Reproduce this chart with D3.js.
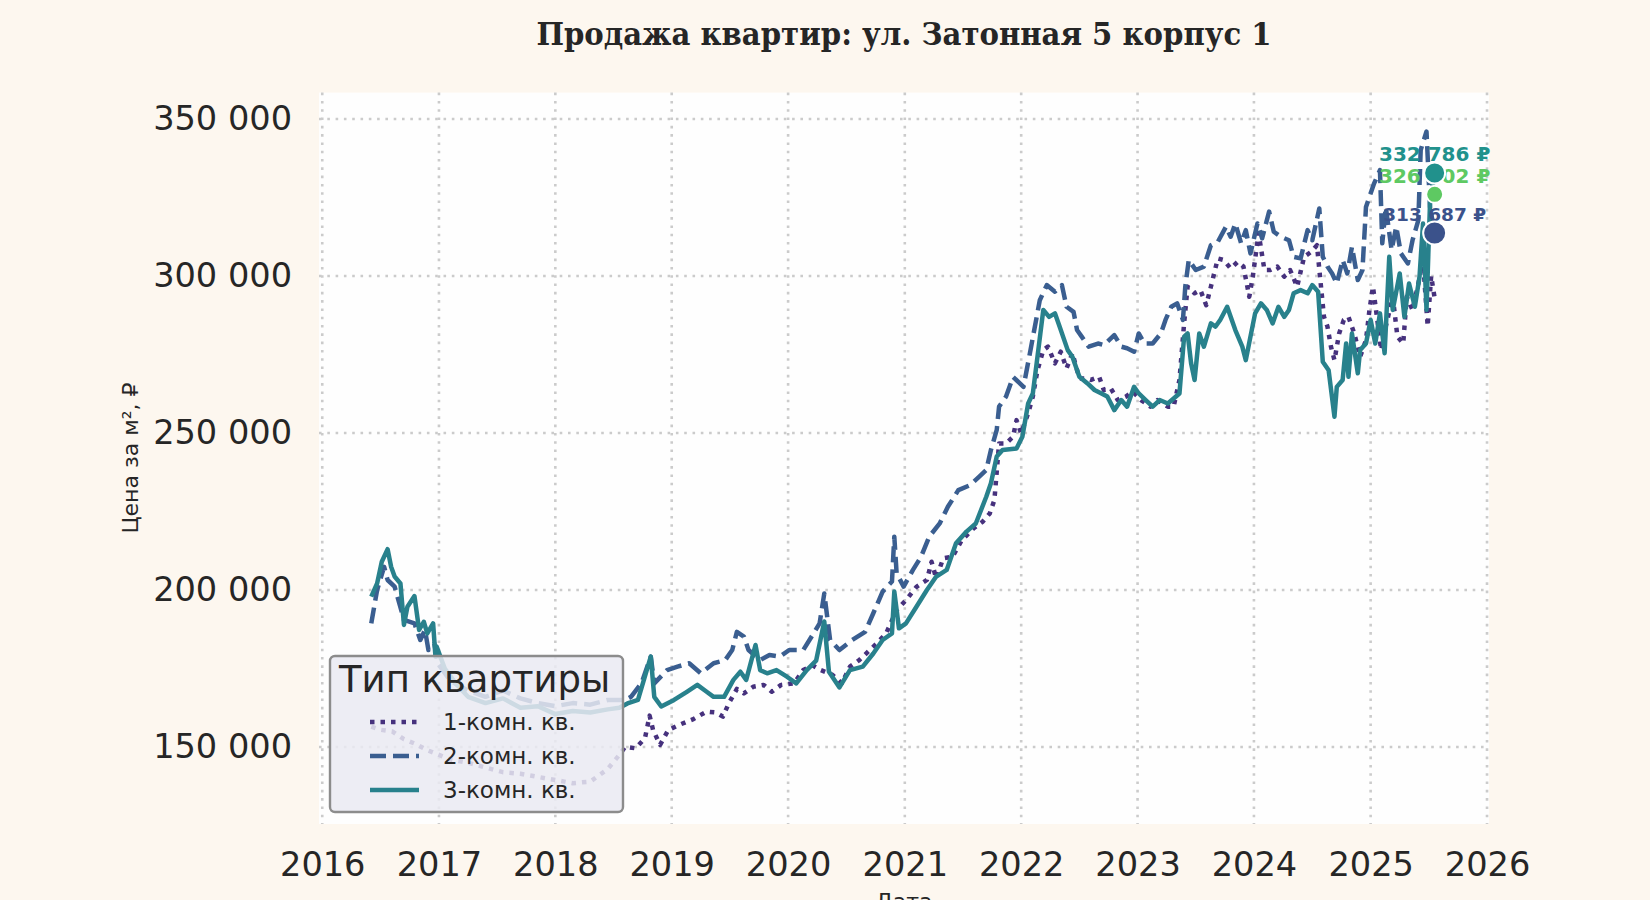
<!DOCTYPE html>
<html>
<head>
<meta charset="utf-8">
<script src="https://cdn.jsdelivr.net/npm/d3@7"></script>
<style>
  body { margin: 0; background: #fdf7ef; }
  svg { display: block; }
</style>
</head>
<body>
<div id="chart"></div>
<script>
// Data (decimal year, price per m²)

const room1 = [
  [2016.42,156500],[2016.50,155500],[2016.60,155000],[2016.70,152500],[2016.80,151000],[2016.90,149000],
  [2017.00,147500],[2017.10,146000],[2017.25,145000],[2017.40,143500],[2017.55,142000],[2017.70,141500],
  [2017.85,140500],[2018.00,139500],[2018.15,138500],[2018.30,139000],[2018.45,143000],[2018.55,147500],
  [2018.60,150100],[2018.69,149600],[2018.77,152800],[2018.81,160000],[2018.84,155400],[2018.90,150700],
  [2018.97,155400],[2019.06,157000],[2019.18,158800],[2019.30,161300],[2019.38,161000],[2019.44,159700],
  [2019.49,163900],[2019.56,168500],[2019.62,167100],[2019.70,169200],[2019.79,169800],[2019.86,167600],
  [2019.94,169800],[2020.05,170300],[2020.13,174500],[2020.21,176000],[2020.28,174500],[2020.38,173000],
  [2020.46,170300],[2020.53,175600],[2020.61,177700],[2020.70,180900],[2020.76,183000],[2020.84,186200],
  [2020.93,193600],[2021.01,196800],[2021.10,201000],[2021.19,203200],[2021.23,209000],[2021.27,203700],
  [2021.33,210100],[2021.41,210600],[2021.49,215900],[2021.59,219600],[2021.67,221800],[2021.73,224400],
  [2021.77,228700],[2021.81,246700],[2021.87,246700],[2021.93,248800],[2021.96,254100],[2022.00,249900],
  [2022.06,256300],[2022.10,261600],[2022.14,270000],[2022.19,276400],[2022.23,277500],[2022.29,272200],
  [2022.34,275900],[2022.39,270600],[2022.44,275400],[2022.50,267400],[2022.56,267400],[2022.60,266900],
  [2022.67,267900],[2022.71,263700],[2022.77,264200],[2022.83,260500],[2022.90,261600],[2022.96,263200],
  [2023.03,260500],[2023.11,258400],[2023.17,260500],[2023.26,258400],[2023.31,258400],[2023.36,266900],
  [2023.40,284900],[2023.43,296600],[2023.49,294500],[2023.54,295500],[2023.59,290700],[2023.63,296600],
  [2023.69,305600],[2023.74,305100],[2023.80,302400],[2023.86,304500],[2023.91,303000],[2023.96,293400],
  [2023.99,299800],[2024.04,313600],[2024.09,301900],[2024.14,301900],[2024.20,303000],[2024.26,299800],
  [2024.31,301900],[2024.37,296600],[2024.43,306100],[2024.49,307700],[2024.54,309800],[2024.60,287000],
  [2024.63,283900],[2024.66,277500],[2024.69,273200],[2024.73,281700],[2024.77,286000],[2024.81,287000],
  [2024.86,281700],[2024.91,274300],[2024.96,279600],[2024.99,289200],[2025.02,296600],[2025.05,288100],
  [2025.09,276400],[2025.13,283900],[2025.19,293400],[2025.23,280700],[2025.28,278500],[2025.31,293400],
  [2025.36,289200],[2025.41,297600],[2025.45,305000],[2025.49,284000],[2025.52,300000],[2025.55,293000]
];

const room2 = [
  [2016.42,189400],[2016.47,200000],[2016.53,207400],[2016.56,203200],[2016.62,201100],[2016.70,190500],
  [2016.79,189400],[2016.84,184100],[2016.88,187300],[2016.91,180900],[2016.96,183000],[2016.99,176700],
  [2017.10,171000],[2017.25,168000],[2017.40,166000],[2017.55,168000],[2017.70,165500],[2017.85,164000],
  [2018.00,163000],[2018.15,164000],[2018.30,163500],[2018.45,165000],[2018.60,165000],[2018.65,166000],
  [2018.74,170300],[2018.82,178800],[2018.85,170300],[2018.96,174500],[2019.05,175600],[2019.15,176700],
  [2019.25,173500],[2019.36,176700],[2019.46,177700],[2019.52,180900],[2019.56,186700],[2019.62,185200],
  [2019.66,180900],[2019.76,177700],[2019.84,179300],[2019.93,178800],[2020.01,180900],[2020.13,180900],
  [2020.21,185700],[2020.27,189400],[2020.31,198900],[2020.36,184100],[2020.44,180900],[2020.55,184100],
  [2020.66,186700],[2020.73,192600],[2020.81,199500],[2020.89,202700],[2020.91,217000],[2020.93,205300],
  [2020.99,201100],[2021.07,206400],[2021.14,210600],[2021.21,217000],[2021.30,221200],[2021.37,226500],
  [2021.46,231800],[2021.56,233400],[2021.64,236100],[2021.70,238200],[2021.74,244600],[2021.79,251000],
  [2021.81,258400],[2021.87,261600],[2021.93,267900],[2022.02,264700],[2022.08,276400],[2022.16,292300],
  [2022.22,297100],[2022.29,295000],[2022.35,297100],[2022.39,290200],[2022.45,288600],[2022.48,282800],
  [2022.52,280700],[2022.58,277500],[2022.66,278500],[2022.71,278000],[2022.80,281200],[2022.86,277500],
  [2022.91,277000],[2022.97,275900],[2023.01,281700],[2023.06,278500],[2023.13,278500],[2023.20,281700],
  [2023.24,286000],[2023.29,290200],[2023.34,291300],[2023.39,286000],[2023.41,296600],[2023.44,305100],
  [2023.50,301900],[2023.57,303000],[2023.63,309800],[2023.69,310900],[2023.76,315700],[2023.80,312500],
  [2023.84,316700],[2023.89,310400],[2023.93,314600],[2023.97,307200],[2024.03,316700],[2024.07,312000],
  [2024.13,320500],[2024.17,314100],[2024.23,312500],[2024.30,311400],[2024.34,306100],[2024.40,305600],
  [2024.46,314600],[2024.50,311400],[2024.56,321500],[2024.59,306100],[2024.63,303000],[2024.67,300800],
  [2024.71,297600],[2024.76,305100],[2024.80,300800],[2024.84,309300],[2024.89,298700],[2024.93,301900],
  [2024.96,322000],[2025.01,327400],[2025.03,329500],[2025.08,333700],[2025.10,310400],[2025.13,322000],
  [2025.18,308300],[2025.22,315700],[2025.26,307200],[2025.32,304000],[2025.36,311400],[2025.41,317800],
  [2025.43,340100],[2025.48,346000],[2025.51,322000],[2025.55,313700]
];

const room3 = [
  [2016.42,197900],[2016.47,202100],[2016.51,209000],[2016.56,213000],[2016.59,207400],[2016.62,204300],
  [2016.67,202100],[2016.70,188900],[2016.73,194700],[2016.79,198100],[2016.83,187300],[2016.87,189900],
  [2016.90,186200],[2016.95,189400],[2016.97,178800],[2016.98,182000],[2017.05,175000],[2017.15,170000],
  [2017.25,166000],[2017.40,164000],[2017.55,165500],[2017.70,162500],[2017.85,163000],[2018.00,160500],
  [2018.15,161500],[2018.30,161000],[2018.45,162000],[2018.55,162500],[2018.62,163900],[2018.71,165000],
  [2018.82,178800],[2018.85,166000],[2018.91,162900],[2019.02,165000],[2019.13,167600],[2019.22,169800],
  [2019.30,167600],[2019.36,166000],[2019.45,166000],[2019.53,171400],[2019.59,174000],[2019.64,171400],
  [2019.72,182500],[2019.76,174500],[2019.82,173500],[2019.90,174500],[2019.99,172400],[2020.07,170300],
  [2020.16,174500],[2020.24,177500],[2020.31,190000],[2020.35,174000],[2020.44,169000],[2020.53,174500],
  [2020.64,175600],[2020.73,179800],[2020.81,184100],[2020.89,186200],[2020.91,199500],[2020.95,187800],
  [2021.01,189400],[2021.10,194700],[2021.19,200000],[2021.27,204300],[2021.36,206400],[2021.44,214900],
  [2021.53,218600],[2021.61,221200],[2021.70,229700],[2021.74,234000],[2021.79,242500],[2021.84,244600],
  [2021.96,245100],[2022.01,248800],[2022.06,259400],[2022.10,262600],[2022.14,274300],[2022.19,289200],
  [2022.24,287000],[2022.29,288100],[2022.33,283900],[2022.40,276400],[2022.44,274300],[2022.50,267900],
  [2022.57,265800],[2022.63,263700],[2022.69,262600],[2022.74,261600],[2022.80,257300],[2022.86,260500],
  [2022.91,258400],[2022.97,264700],[2023.01,262600],[2023.07,260500],[2023.13,258400],[2023.19,260500],
  [2023.26,259400],[2023.31,261000],[2023.36,262600],[2023.40,280700],[2023.43,281700],[2023.46,272200],
  [2023.49,266900],[2023.53,281700],[2023.57,277500],[2023.63,284900],[2023.67,283900],[2023.71,286000],
  [2023.77,290200],[2023.80,287000],[2023.84,282800],[2023.90,277500],[2023.93,273200],[2023.97,280700],
  [2024.01,288100],[2024.06,291300],[2024.11,289200],[2024.16,284900],[2024.21,290200],[2024.26,287000],
  [2024.30,289200],[2024.34,294500],[2024.40,295500],[2024.46,294500],[2024.50,297100],[2024.55,295000],
  [2024.59,272700],[2024.64,270000],[2024.69,255200],[2024.71,264700],[2024.76,266900],[2024.79,278500],
  [2024.81,267900],[2024.84,281700],[2024.89,269000],[2024.91,276400],[2024.96,278500],[2025.00,286000],
  [2025.04,278500],[2025.08,288100],[2025.12,275400],[2025.16,306100],[2025.19,289200],[2025.25,300800],
  [2025.29,287000],[2025.33,297600],[2025.38,290200],[2025.42,299800],[2025.45,316700],[2025.48,289200],
  [2025.51,323100],[2025.55,332800]
];

const seriesNames = ["1-комн. кв.", "2-комн. кв.", "3-комн. кв."];
const seriesColors = ["#46317d", "#3a5e90", "#28818c"];
const seriesDash = ["4.5,6", "16,7", null];

// Last-value markers
const markerDate = 2025.55;
const markerValues = [332786, 326002, 313687];
const markerColors = ["#21918c", "#5ec962", "#3b528b"];
const markerRadius = [10.5, 8.5, 11.5];
const markerFont = [20, 20, 18.5];

const yTicks = [150000, 200000, 250000, 300000, 350000];
const xTicks = d3.range(2016, 2027);

// Setting up sizes

const W = 1650, H = 900;
const plot = { left: 319, right: 1489, top: 92.6, bottom: 824 };

function dec2date(v) {
  const y0 = Math.floor(v);
  const a = new Date(y0, 0, 1), b = new Date(y0 + 1, 0, 1);
  return new Date(+a + (v - y0) * (b - a));
}

const x = d3.scaleTime()
  .domain([dec2date(2015.972), dec2date(2026.017)])
  .range([plot.left, plot.right]);

const y = d3.scaleLinear()
  .domain([125500, 358400])
  .range([plot.bottom, plot.top]);

const ru = d3.formatLocale({ decimal: ",", thousands: " ", grouping: [3], currency: ["", " ₽"] });
const fmt = ru.format(",d");

const svg = d3.select("#chart")
  .append("svg")
  .attr("width", W)
  .attr("height", H);

svg.append("rect")
  .attr("width", W).attr("height", H)
  .attr("fill", "#fdf7ef");

svg.append("rect")
  .attr("x", plot.left).attr("y", plot.top)
  .attr("width", plot.right - plot.left)
  .attr("height", plot.bottom - plot.top)
  .attr("fill", "#fefefe");

svg.append("clipPath").attr("id", "clip")
  .append("rect")
  .attr("x", plot.left).attr("y", plot.top)
  .attr("width", plot.right - plot.left)
  .attr("height", plot.bottom - plot.top);

// Gridlines

svg.selectAll(".yGrid")
  .data(yTicks)
  .join("line")
  .attr("x1", plot.left).attr("x2", plot.right)
  .attr("y1", d => y(d)).attr("y2", d => y(d))
  .attr("stroke", "#cbcbcb")
  .attr("stroke-width", 2.6)
  .attr("stroke-dasharray", "2.6,5.7");

svg.selectAll(".xGrid")
  .data(xTicks)
  .join("line")
  .attr("x1", d => x(dec2date(d))).attr("x2", d => x(dec2date(d)))
  .attr("y1", plot.top).attr("y2", plot.bottom)
  .attr("stroke", "#cbcbcb")
  .attr("stroke-width", 2.6)
  .attr("stroke-dasharray", "2.6,5.7");

// Axes

const yAxis = svg.append("g")
  .attr("transform", `translate(${plot.left},0)`)
  .call(d3.axisLeft(y).tickValues(yTicks).tickFormat(fmt).tickSize(0).tickPadding(27));

const xAxis = svg.append("g")
  .attr("transform", `translate(0,${plot.bottom})`)
  .call(d3.axisBottom(x).tickValues(xTicks.map(dec2date))
    .tickFormat(d3.timeFormat("%Y")).tickSize(0).tickPadding(28));

[yAxis, xAxis].forEach(g => {
  g.select(".domain").remove();
  g.selectAll(".tick text")
    .style("font-family", "DejaVu Sans")
    .style("font-size", "33.6px")
    .attr("fill", "#262626");
});

// Lines

const line = d3.line()
  .x(d => x(dec2date(d[0])))
  .y(d => y(d[1]));

const lines = svg.append("g").attr("clip-path", "url(#clip)");

[room1, room2, room3].forEach((s, i) => {
  lines.append("path")
    .datum(s)
    .attr("fill", "none")
    .attr("stroke", seriesColors[i])
    .attr("stroke-width", 4.5)
    .attr("stroke-linejoin", "round")
    .attr("stroke-dasharray", seriesDash[i])
    .attr("d", line);
});

// Last-value labels and markers

svg.selectAll(".mlabel")
  .data(markerValues)
  .join("text")
  .attr("x", x(dec2date(markerDate)))
  .attr("y", d => y(d) - 19)
  .attr("dy", "0.36em")
  .attr("text-anchor", "middle")
  .style("font-family", "DejaVu Sans")
  .style("font-weight", "bold")
  .style("font-size", (d, i) => markerFont[i] + "px")
  .attr("fill", (d, i) => markerColors[i])
  .text(d => fmt(d) + " ₽");

svg.selectAll(".marker")
  .data(markerValues)
  .join("circle")
  .attr("cx", x(dec2date(markerDate)))
  .attr("cy", d => y(d))
  .attr("r", (d, i) => markerRadius[i])
  .attr("fill", (d, i) => markerColors[i])
  .attr("stroke", "white")
  .attr("stroke-width", 2);

// Legend

const legend = svg.append("g");

legend.append("rect")
  .attr("x", 330).attr("y", 656)
  .attr("width", 293).attr("height", 156)
  .attr("rx", 5)
  .attr("fill", "#eaeaf2")
  .attr("fill-opacity", 0.85)
  .attr("stroke", "#8c8c8c")
  .attr("stroke-width", 2.4);

legend.append("text")
  .attr("x", 339).attr("y", 692)
  .style("font-family", "DejaVu Sans")
  .style("font-size", "37px")
  .attr("fill", "#262626")
  .text("Тип квартиры");

seriesNames.forEach((name, i) => {
  const ly = 722 + i * 34;
  legend.append("line")
    .attr("x1", 370).attr("x2", 419)
    .attr("y1", ly).attr("y2", ly)
    .attr("stroke", seriesColors[i])
    .attr("stroke-width", 4.5)
    .attr("stroke-dasharray", seriesDash[i]);
  legend.append("text")
    .attr("x", 443).attr("y", ly)
    .attr("dy", "0.36em")
    .style("font-family", "DejaVu Sans")
    .style("font-size", "23px")
    .attr("fill", "#262626")
    .text(name);
});

// Axis labels

svg.append("text")
  .attr("transform", "rotate(-90)")
  .attr("x", -458)
  .attr("y", 130)
  .attr("dy", "0.36em")
  .attr("text-anchor", "middle")
  .style("font-family", "DejaVu Sans")
  .style("font-size", "22px")
  .attr("fill", "#262626")
  .text("Цена за м², ₽");

// x label sits mostly below the bottom edge, as in the reference
svg.append("text")
  .attr("x", (plot.left + plot.right) / 2)
  .attr("y", 909)
  .attr("text-anchor", "middle")
  .style("font-family", "DejaVu Sans")
  .style("font-size", "22px")
  .attr("fill", "#262626")
  .text("Дата");

// Title

svg.append("text")
  .attr("x", (plot.left + plot.right) / 2)
  .attr("y", 45)
  .attr("text-anchor", "middle")
  .style("font-family", "'DejaVu Serif Condensed', 'DejaVu Serif'")
  .style("font-stretch", "condensed")
  .style("font-weight", "bold")
  .style("font-size", "32.4px")
  .attr("fill", "#262626")
  .text("Продажа квартир: ул. Затонная 5 корпус 1");
</script>
</body>
</html>
